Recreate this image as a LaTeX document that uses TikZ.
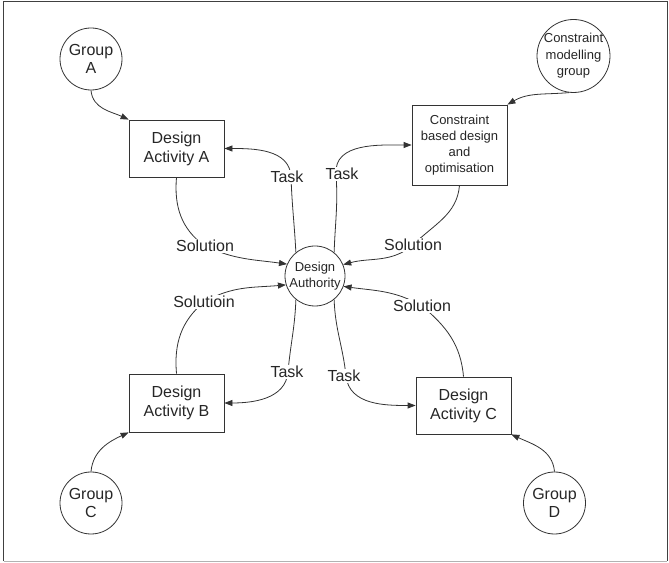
\documentclass[tikz,border=0pt]{standalone}
\usepackage{fontspec}
\setmainfont{Liberation Sans}
\usetikzlibrary{arrows.meta,backgrounds}
\begin{document}
\begin{tikzpicture}[x=1pt,y=1pt,
  ln/.style={draw=black!80,line width=0.8pt},
  arr/.style={ln,-{Triangle[length=8pt,width=6pt]}},
  box/.style={draw=black!80,line width=0.8pt,rectangle,minimum width=95pt,inner sep=0pt,align=center,font=\fontsize{16}{19}\selectfont,text=black!85},
  sbox/.style={box,font=\fontsize{13}{16}\selectfont},
  grp/.style={draw=black!80,line width=0.8pt,circle,inner sep=-5pt,align=center,font=\fontsize{16}{18}\selectfont,text=black!85},
  sgrp/.style={grp,font=\fontsize{13}{16.5}\selectfont},
  lbl/.style={fill=white,inner sep=1pt,font=\fontsize{16}{19}\selectfont,text=black!85}
]
\useasboundingbox (0,0) rectangle (669,562);
% frame
\draw[black!75,line width=1pt] (3.5,1) -- (3.5,560) -- (667,560) -- (667,1);
\draw[black!30,line width=0.8pt] (3.5,1) -- (667,1);

% nodes
\node[grp,minimum size=62pt] (ga) at (91,503) {Group\\A};
\node[sgrp,minimum size=73pt] (cmg) at (573.5,506) {Constraint\\modelling\\group};
\node[box,minimum height=57pt] (A) at (176.5,413.5) {Design\\Activity A};
\node[sbox,minimum height=80pt] (K) at (459.5,417) {Constraint\\based design\\and\\optimisation};
\node[sgrp,minimum size=60pt] (da) at (315,286) {Design\\Authority};
\node[box,minimum height=58pt] (B) at (176.5,159) {Design\\Activity B};
\node[box,minimum height=57pt] (C) at (463.5,156.5) {Design\\Activity C};
\node[grp,minimum size=62pt] (gc) at (91,59) {Group\\C};
\node[grp,minimum size=62pt] (gd) at (554.5,59) {Group\\D};

% labels
\node[lbl] (taskA) at (287,385) {Task};
\node[lbl] (taskK) at (342,388) {Task};
\node[lbl] (solA) at (205,316) {Solution};
\node[lbl] (solK) at (413,317) {Solution};
\node[lbl] (solB) at (204,260) {Solutioin};
\node[lbl] (taskB) at (287,190) {Task};
\node[lbl] (taskC) at (344,186) {Task};
\node[lbl] (solC) at (422,256) {Solution};

\begin{scope}[on background layer]
% groups to activities
\draw[arr] (ga.south) to[out=-85,in=155] (A.north west);
\draw[arr] (cmg.263) to[out=185,in=30] (K.north east);
\draw[arr] (gc.north) to[out=85,in=205] (B.south west);
\draw[arr] (gd.north) to[out=95,in=-25] (C.south east);
% tasks
\draw[arr] (da.129) to[out=93,in=-88] ([xshift=4pt]taskA.center) to[out=92,in=0] (A.east);
\draw[arr] (da.51) to[out=88,in=-86] ([xshift=-6pt]taskK.center) to[out=94,in=180] (K.west);
\draw[arr] (da.231) to[out=-92,in=85] ([xshift=1pt]taskB.center) to[out=-95,in=0] (B.east);
\draw[arr] (da.309) to[out=-88,in=96] ([xshift=2pt]taskC.center) to[out=-84,in=180] (C.west);
% solutions
\draw[arr] (A.south) to[out=-95,in=145] (solA.center) to[out=-25,in=172] (da.157);
\draw[arr] (K.south) to[out=-95,in=45] (solK.center) to[out=-140,in=15] (da.22);
\draw[arr] (B.north) to[out=95,in=-140] (solB.center) to[out=30,in=185] (da.197);
\draw[arr] (C.north) to[out=95,in=-40] (solC.center) to[out=150,in=-8] (da.340);
\end{scope}
\end{tikzpicture}
\end{document}
